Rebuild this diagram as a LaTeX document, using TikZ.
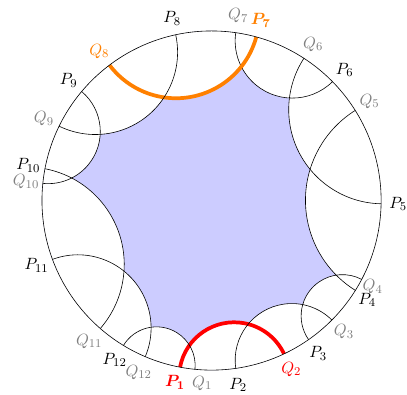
\documentclass[tikz,border=0pt]{standalone}
\usepackage{xcolor}
\usepackage{bm}
\usepackage{tikz}
\usetikzlibrary{calc}
\definecolor{hired}{HTML}{FF0000}
\definecolor{hiorange}{HTML}{FF8000}
\definecolor{facecol}{HTML}{CCCCFF}

\begin{document}
\begin{tikzpicture}[
    geo/.style={black, line width=0.4pt},
    geored/.style={hired, line width=2.5pt},
    geoorange/.style={hiorange, line width=2.5pt},
    lbl/.style={inner sep=0pt, font=\fontsize{11}{13}\selectfont},
    plabel/.style={lbl, text=black},
    qlabel/.style={lbl, text=gray},
    redlabel/.style={lbl, text=hired},
    orangelabel/.style={lbl, text=hiorange}
]
    \def\R{4}
    \useasboundingbox (-4.99,-4.57) rectangle (4.61,4.73);

    % points P and Q on the boundary
    \foreach \i/\ang in {1/259.3, 2/278.2, 3/304.9, 4/328, 5/358.9, 6/404.5,
        7/434.7, 8/462.2, 9/500, 10/529.2, 11/560.3, 12/598.7} {
        \coordinate (P\i) at ({\ang}:{\R});
    }
    \foreach \i/\ang in {1/264.4, 2/295.3, 3/315.2, 4/332.3, 5/392.1, 6/417,
        7/441.8, 8/487, 9/514, 10/534.2, 11/589, 12/607} {
        \coordinate (Q\i) at ({\ang}:{\R});
    }

    % shaded face: disk minus the half-planes
    \begin{scope}
        \clip (0,0) circle[radius=\R];
        \fill[facecol] (0,0) circle[radius=\R];
        \foreach \a/\b in {259.3/295.3, 278.2/315.2, 304.9/332.3, 328/392.1,
            358.9/417, 404.5/441.8, 434.7/487, 462.2/514, 500/534.2,
            529.2/589, 560.3/607, 598.7/624.4} {
            \pgfmathsetmacro{\h}{(\b-\a)/2}
            \pgfmathsetmacro{\m}{(\a+\b)/2}
            \fill[white] ({\m}:{\R/cos(\h)}) circle[radius={\R*tan(\h)}];
        }
    \end{scope}

    % geodesics P_i -- Q_{i+1}
    \foreach \p/\a/\b/\sty in {1/259.3/295.3/geored, 2/278.2/315.2/geo, 3/304.9/332.3/geo,
        4/328/392.1/geo, 5/358.9/417/geo, 6/404.5/441.8/geo, 7/434.7/487/geoorange,
        8/462.2/514/geo, 9/500/534.2/geo, 10/529.2/589/geo, 11/560.3/607/geo,
        12/598.7/624.4/geo} {
        \pgfmathsetmacro{\h}{(\b-\a)/2}
        \pgfmathsetmacro{\m}{(\a+\b)/2}
        \draw[\sty] (P\p) arc[start angle={\m-90-\h}, end angle={\m-270+\h}, radius={\R*tan(\h)}];
    }

    % boundary circle
    \draw[geo] (0,0) circle[radius=\R];

    % labels
    \foreach \i/\ang in {2/278.2, 3/304.9, 5/358.9, 6/404.5, 8/462.2,
        9/500, 10/529.2, 11/560.3, 12/598.7} {
        \node[plabel] (lP\i) at ({\ang}:{1.1*\R}) {$P_{\i}$};
    }
    \node[plabel] (lP4) at (3.67,-2.35) {$P_{4}$};
    \node[redlabel] (lP1) at (-0.86,-4.29) {$\bm{P_{1}}$};
    \node[orangelabel] (lP7) at (434.7:4.4) {$\bm{P_{7}}$};
    \foreach \i/\ang in {3/315.2, 5/392.1, 6/417,
        7/441.8, 9/514, 10/534.2, 11/589, 12/607} {
        \node[qlabel] (lQ\i) at ({\ang}:{1.1*\R}) {$Q_{\i}$};
    }
    \node[qlabel] (lQ1) at (-0.22,-4.31) {$Q_{1}$};
    \node[qlabel] (lQ4) at (3.80,-2.03) {$Q_{4}$};
    \node[redlabel] (lQ2) at (295.3:4.4) {$Q_{2}$};
    \node[orangelabel] (lQ8) at (487:4.4) {$Q_{8}$};
\end{tikzpicture}
\end{document}
